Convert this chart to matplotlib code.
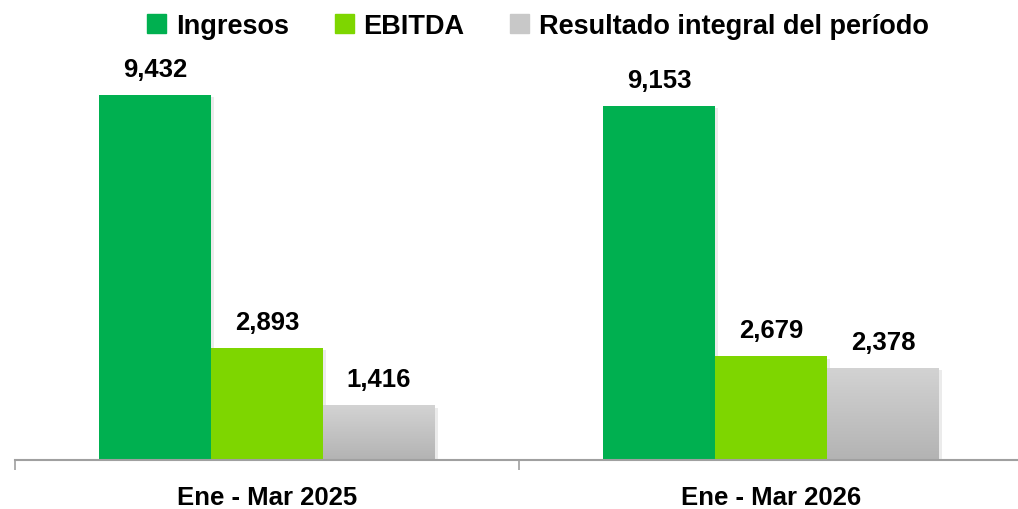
import numpy as np
import matplotlib
matplotlib.use('Agg')
import matplotlib.pyplot as plt
from matplotlib.patches import Rectangle

# Data
periods = ['Ene - Mar 2025', 'Ene - Mar 2026']
series = ['Ingresos', 'EBITDA', 'Resultado integral del período']
ingresos = [9432, 9153]
ebitda = [2893, 2679]
resultado = [1416, 2378]

colors = ['#00B050', '#7ED600', '#C8C8C8']

plt.rcParams['font.family'] = ['Liberation Sans', 'DejaVu Sans']
plt.rcParams['font.weight'] = 'bold'

fig = plt.figure(figsize=(10.18, 5.10), dpi=100)
# axes: x 15..1023 px (each period 504 px), y 461..55 px from top
ax = fig.add_axes([15 / 1018, (510 - 461) / 510, 1008 / 1018, (461 - 55) / 510])

x = np.arange(len(periods))
width = 2 / 9
values = [ingresos, ebitda, resultado]

ymax = 406 / (365 / 9432)

for i, (vals, col) in enumerate(zip(values, colors)):
    pos = x + (i - 1) * width
    # soft shadow
    ax.bar(pos + 0.005, vals, width, bottom=-ymax * 0.006, color='#000000',
           alpha=0.08, zorder=1, linewidth=0)
    bars = ax.bar(pos, vals, width, color=col, zorder=2, linewidth=0)
    if i == 2:
        # vertical grey gradient
        grad = np.linspace(1, 0, 256).reshape(-1, 1)
        cmap = matplotlib.colors.LinearSegmentedColormap.from_list(
            'g', ['#B3B3B3', '#D3D3D3'])
        for b in bars:
            im = ax.imshow(grad, cmap=cmap, aspect='auto', zorder=3,
                           extent=[b.get_x(), b.get_x() + b.get_width(), 0, b.get_height()],
                           origin='upper', vmin=0, vmax=1)
            im.set_clip_path(b)
    for p, v in zip(pos, vals):
        ax.text(p, v + ymax * 0.035, f'{v:,}', ha='center', va='bottom',
                fontsize=18.5, fontweight='bold', color='#000000', zorder=5)

ax.set_xlim(-0.5, len(periods) - 0.5)
ax.set_ylim(0, ymax)

for s in ['top', 'right', 'left']:
    ax.spines[s].set_visible(False)
ax.spines['bottom'].set_color('#A0A0A0')
ax.spines['bottom'].set_linewidth(1.5)
ax.spines['bottom'].set_zorder(4)
ax.set_yticks([])
ax.set_xticks([-0.5, 0.5, 1.5])
ax.set_xticklabels([])
ax.tick_params(axis='x', length=7, width=1.2, color='#A0A0A0')
ax.set_xticks(x, minor=True)
ax.set_xticklabels(periods, minor=True)
ax.tick_params(axis='x', which='minor', length=0, pad=18, labelsize=18.5)

# legend
handles = [Rectangle((0, 0), 1, 1, color=c) for c in colors]
leg = fig.legend(handles, series, loc='center', bbox_to_anchor=(538 / 1018, 1 - 27 / 510),
                 ncol=3, frameon=False, fontsize=19.5, handlelength=0.7, handleheight=0.7,
                 handletextpad=0.35, columnspacing=1.7)
for t in leg.get_texts():
    t.set_fontweight('bold')

fig.savefig('out.png', dpi=100)
